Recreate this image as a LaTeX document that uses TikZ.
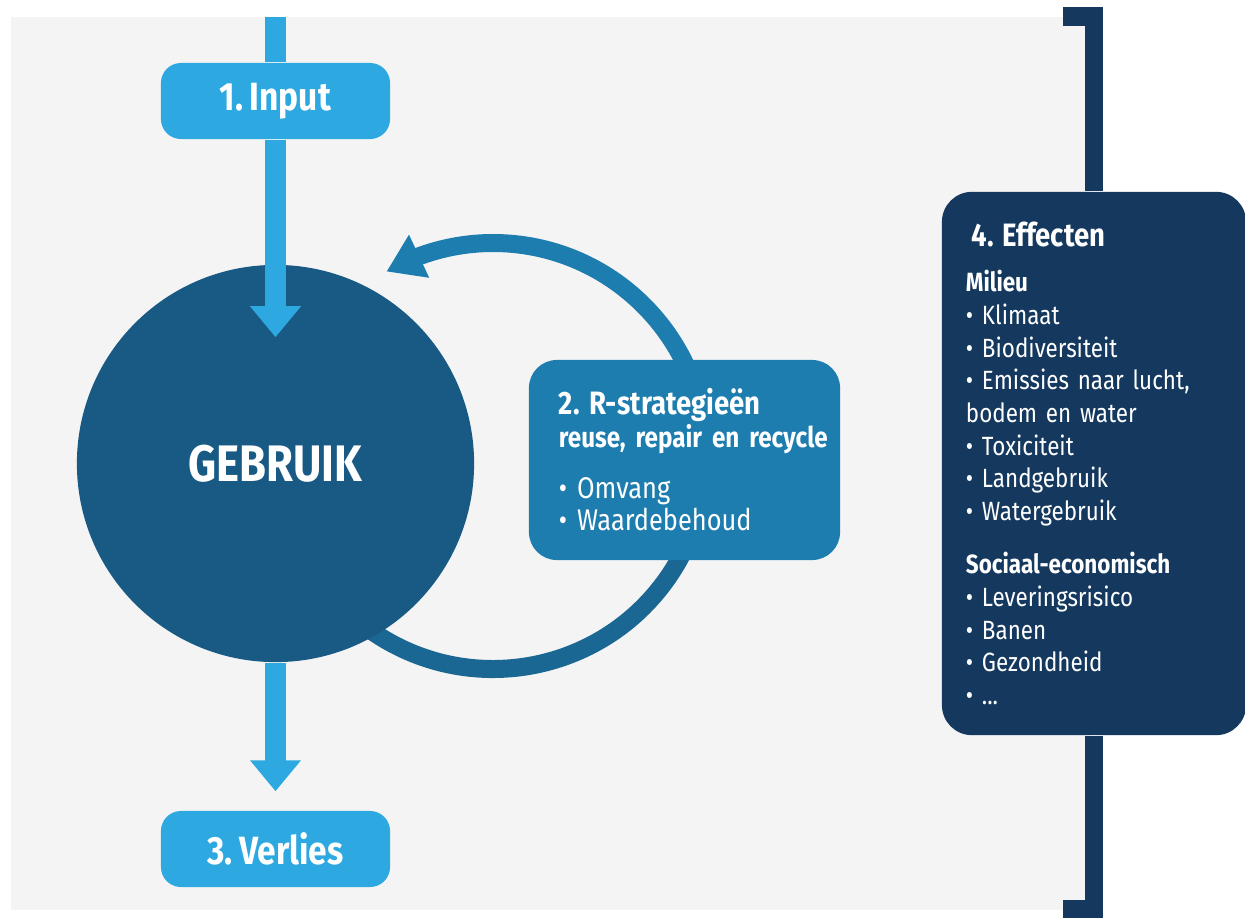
\documentclass[tikz,border=0pt]{standalone}
\usepackage{fontspec}
\setmainfont{Fira Sans}[FakeStretch=0.85,WordSpace=0.8]
\usetikzlibrary{arrows.meta,bending}

\definecolor{bggray}{HTML}{F4F4F4}
\definecolor{lightblue}{HTML}{2EA8E0}
\definecolor{usedark}{HTML}{195A84}
\definecolor{rblue}{HTML}{1E7DAF}
\definecolor{loopdark}{HTML}{1B6793}
\definecolor{navy}{HTML}{15395E}

\tikzset{
  labelbox/.style={fill=lightblue,rounded corners=0.2cm,minimum width=2.29cm,
    minimum height=0.76cm,inner sep=0pt,text=white,
    font=\fontsize{11.2}{13}\selectfont\bfseries},
  flow/.style={draw=lightblue,line width=0.21cm},
  flowtip/.style={flow,-{Triangle[width=0.49cm,length=0.31cm]}},
  loopline/.style={line width=0.18cm},
}

\begin{document}
\frenchspacing
\begin{tikzpicture}[x=0.01cm,y=0.01cm]
\useasboundingbox (0,0) rectangle (1245,-918);
\fill[bggray] (11,-17) rectangle (1090,-910);

% loop behind the circle
\coordinate (loopc) at (493,-456);
\draw[loopline,draw=loopdark] ([shift={(235:213)}]loopc) arc[start angle=235,end angle=361,radius=213];
\draw[loopline,draw=rblue,-{Triangle[width=0.45cm,length=0.36cm]}]
  ([shift={(360:213)}]loopc) arc[start angle=360,end angle=480,radius=213];

\node (gebruik) at (275.5,-463.5) [circle,fill=usedark,minimum size=3.97cm,inner sep=0pt,
  text=white,font=\fontsize{14.6}{18}\selectfont\bfseries] {GEBRUIK};
\node (inp) at (275.5,-101) [labelbox] {1. Input};
\node (verlies) at (275.5,-849) [labelbox] {3. Verlies};
\coordinate (src) at (275.5,-17);

\draw[flow] (src) -- (inp.north);
\draw[flowtip] (inp.south) -- ([yshift=-0.73cm]gebruik.north);
\draw[flowtip] (gebruik.south) -- ([yshift=0.19cm]verlies.north);

\node (rstrat) at (684.5,-460) [fill=rblue,rounded corners=0.28cm,minimum width=3.11cm,
  minimum height=2cm,inner sep=0pt,text=white,text width=2.51cm,align=left,
  font=\fontsize{8.5}{9.2}\selectfont] {%
  {\fontsize{9.2}{9.4}\selectfont\bfseries 2. R-strategieën}\\
  \mbox{\fontsize{8.1}{9.4}\selectfont\bfseries reuse, repair en recycle}\\[5.4pt]
  • Omvang\\
  • Waardebehoud};

\node (effect) at (1094,-463.5) [fill=navy,rounded corners=0.3cm,minimum width=3.04cm,
  minimum height=5.43cm,inner sep=0pt,text=white,text width=2.56cm,align=left,
  font=\fontsize{7.5}{9.3}\selectfont] {%
  \hspace*{1.6pt}{\fontsize{9.2}{9.3}\selectfont\bfseries 4. Effecten}\\[3.5pt]
  {\bfseries Milieu}\\
  • Klimaat\\
  • Biodiversiteit\\
  • Emissies naar lucht,\\
  bodem en water\\
  • Toxiciteit\\
  • Landgebruik\\
  • Watergebruik\\[5.8pt]
  {\bfseries Sociaal-economisch}\\
  • Leveringsrisico\\
  • Banen\\
  • Gezondheid\\
  • ...};
\coordinate (topfoot) at (1063,-16.5);
\coordinate (botfoot) at (1063,-909.5);
\draw[navy,line width=0.185cm] (topfoot) -| (effect.north);
\draw[navy,line width=0.185cm] (botfoot) -| (effect.south);
\end{tikzpicture}
\end{document}
